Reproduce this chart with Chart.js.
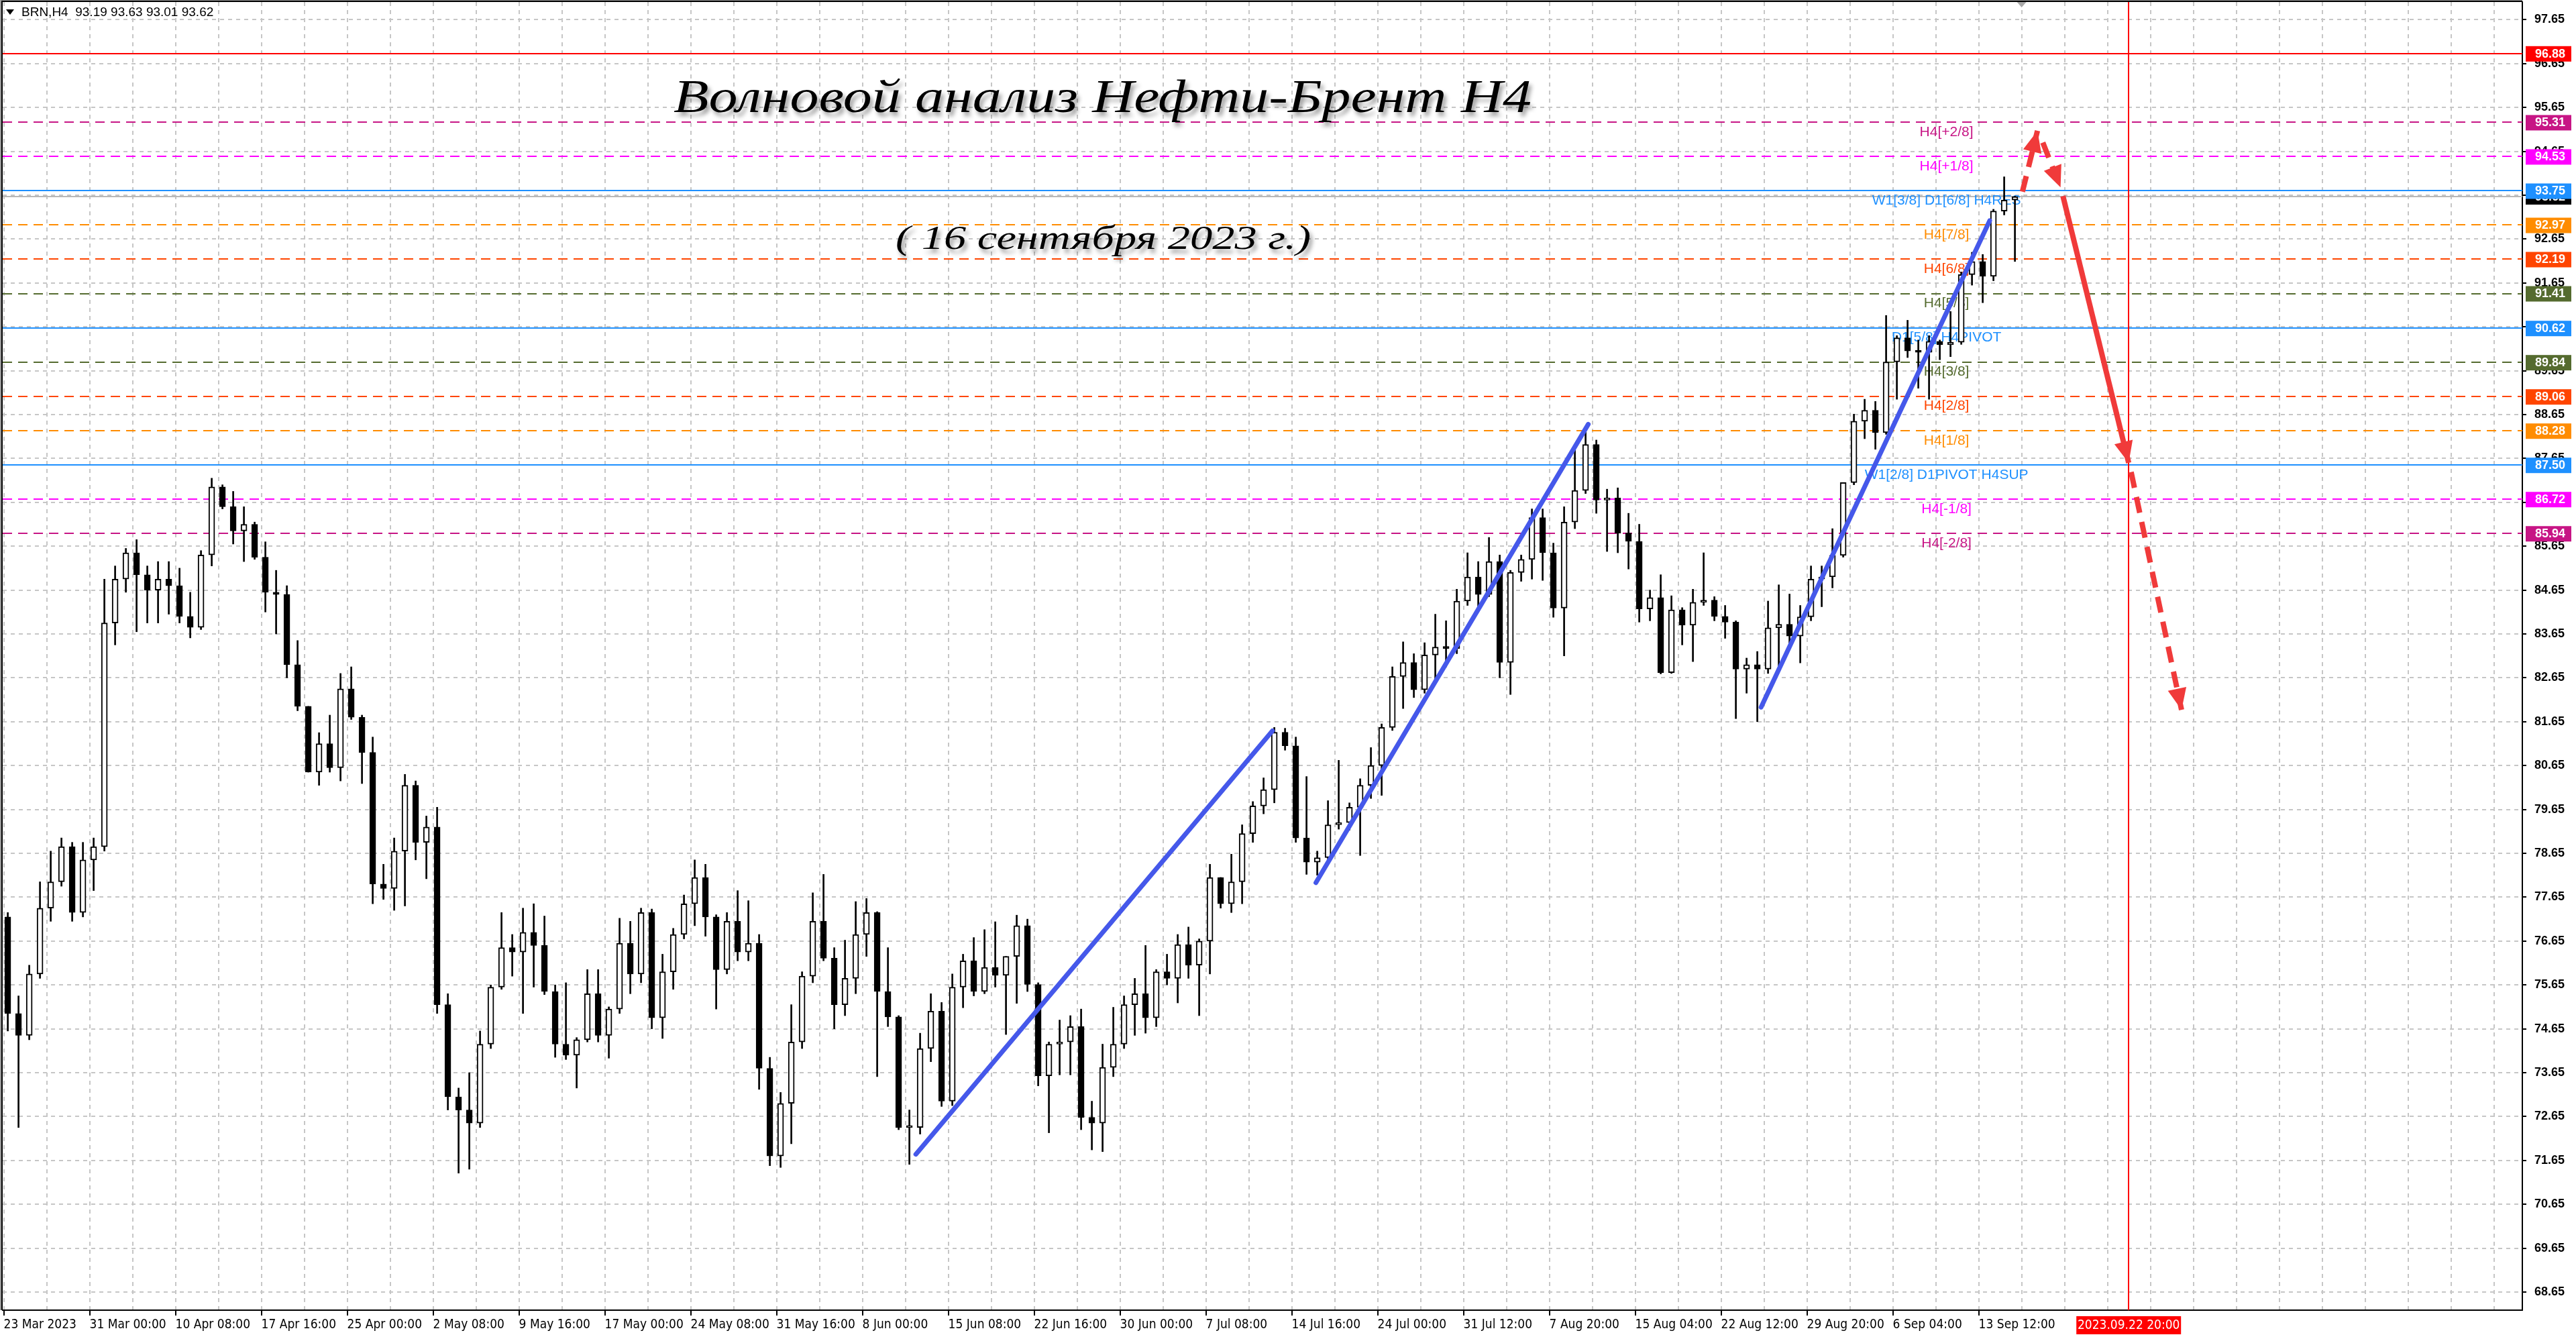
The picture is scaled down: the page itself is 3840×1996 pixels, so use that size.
<!DOCTYPE html>
<html>
<head>
<meta charset="utf-8">
<script src="https://cdn.jsdelivr.net/npm/chart.js@4.4.0/dist/chart.umd.min.js"></script>
<style>
  html, body { margin: 0; padding: 0; background: #fff; overflow: hidden; }
  canvas { display: block; }
</style>
</head>
<body>
<canvas id="chart" width="3840" height="1996"></canvas>
<script>
const symbolInfo = "BRN,H4  93.19 93.63 93.01 93.62";
const chartTitle = "Волновой анализ Нефти-Брент H4";
const chartSubtitle = "( 16 сентября 2023 г.)";

const timeLabels = ["23 Mar 2023", "31 Mar 00:00", "10 Apr 08:00", "17 Apr 16:00", "25 Apr 00:00",
  "2 May 08:00", "9 May 16:00", "17 May 00:00", "24 May 08:00", "31 May 16:00", "8 Jun 00:00",
  "15 Jun 08:00", "22 Jun 16:00", "30 Jun 00:00", "7 Jul 08:00", "14 Jul 16:00", "24 Jul 00:00",
  "31 Jul 12:00", "7 Aug 20:00", "15 Aug 04:00", "22 Aug 12:00", "29 Aug 20:00", "6 Sep 04:00",
  "13 Sep 12:00"];

const priceTicks = [68.65, 69.65, 70.65, 71.65, 72.65, 73.65, 74.65, 75.65, 76.65, 77.65,
  78.65, 79.65, 80.65, 81.65, 82.65, 83.65, 84.65, 85.65, 86.65, 87.65,
  88.65, 89.65, 90.65, 91.65, 92.65, 93.65, 94.65, 95.65, 96.65, 97.65];

const firstOpen = 77.2;
const highs = [
  77.3, 75.4, 76.1, 78.0, 78.7, 79.0, 78.9, 78.9, 79.0, 84.9,
  85.2, 85.6, 85.8, 85.2, 85.3, 85.3, 85.15, 84.6, 85.55, 87.2,
  87.05, 86.9, 86.55, 86.2, 85.75, 85.1, 84.75, 83.5, 82.0, 81.4,
  81.8, 82.75, 82.9, 81.8, 81.3, 78.4, 79.0, 80.45, 80.3, 79.5,
  79.7, 75.45, 73.3, 73.65, 74.6, 75.65, 77.3, 76.8, 77.4, 77.5,
  77.22, 75.65, 75.7, 74.45, 76.0, 76.0, 75.15, 77.17, 77.1, 77.4,
  77.38, 76.35, 76.94, 77.7, 78.5, 78.4, 77.25, 77.3, 77.8, 77.57,
  76.8, 74.0, 73.2, 75.2, 75.95, 77.75, 78.17, 76.5, 76.67, 77.55,
  77.62, 77.32, 76.5, 74.95, 72.8, 74.55, 75.45, 75.25, 75.9, 76.35,
  76.73, 76.91, 77.09, 76.3, 77.24, 77.15, 75.7, 74.35, 74.85, 74.95,
  75.1, 73.0, 74.3, 75.14, 75.4, 75.8, 76.55, 76.0, 76.35, 76.8,
  76.97, 76.7, 78.4, 78.1, 78.63, 79.3, 79.83, 80.37, 81.52, 81.5,
  81.3, 80.4, 78.7, 79.85, 80.77, 79.8, 80.35, 81.06, 81.6, 82.9,
  83.47, 83.2, 83.45, 84.1, 83.95, 84.67, 85.5, 85.3, 85.85, 85.45,
  85.1, 85.45, 86.5, 86.5, 85.72, 86.55, 87.86, 88.28, 88.07, 86.95,
  86.98, 86.4, 86.15, 84.65, 85.0, 84.52, 84.25, 84.67, 85.5, 84.5,
  84.3, 83.95, 83.1, 83.25, 84.4, 84.77, 84.56, 84.3, 85.2, 85.2,
  86.05, 87.1, 88.66, 89.0, 88.95, 90.91, 90.45, 90.8, 90.35, 90.45,
  90.35, 91.0, 91.9, 92.35, 92.3, 93.33, 94.07, 93.63
];
const lows = [
  74.6, 72.4, 74.4, 75.8, 77.1, 77.9, 77.1, 77.2, 77.8, 78.7,
  83.4, 84.6, 83.7, 83.9, 83.9, 84.1, 83.9, 83.56, 83.75, 85.2,
  86.5, 85.7, 85.3, 85.35, 84.15, 83.65, 82.65, 81.9, 80.5, 80.2,
  80.5, 80.3, 81.7, 80.24, 77.5, 77.6, 77.35, 77.45, 78.5, 78.07,
  75.0, 72.8, 71.36, 71.45, 72.4, 74.2, 75.55, 75.85, 75.0, 75.6,
  75.43, 74.0, 73.95, 73.3, 74.35, 74.35, 73.98, 75.0, 75.45, 75.7,
  74.65, 74.43, 75.55, 76.7, 77.0, 76.76, 75.1, 75.9, 76.2, 76.2,
  73.27, 71.53, 71.49, 72.03, 74.2, 75.7, 76.2, 74.65, 74.95, 75.45,
  76.3, 73.56, 74.7, 72.35, 71.56, 72.25, 73.9, 72.88, 72.9, 75.13,
  75.4, 75.45, 75.6, 74.52, 75.23, 75.5, 73.35, 72.28, 73.6, 73.6,
  72.35, 71.89, 71.85, 73.56, 74.2, 74.5, 74.55, 74.7, 75.65, 75.24,
  75.8, 74.95, 75.9, 77.4, 77.3, 77.5, 78.9, 79.55, 79.8, 81.0,
  78.9, 78.17, 78.15, 78.4, 79.2, 79.18, 78.6, 79.9, 79.97, 81.45,
  81.95, 82.2, 82.3, 82.6, 82.9, 83.2, 84.3, 84.25, 84.5, 82.65,
  82.27, 84.85, 84.9, 84.87, 84.03, 83.15, 86.05, 86.85, 86.4, 85.53,
  85.5, 85.13, 83.92, 83.95, 82.74, 82.75, 83.4, 83.02, 84.3, 83.95,
  83.55, 81.72, 82.3, 81.65, 82.75, 82.81, 83.3, 82.99, 83.95, 84.27,
  84.7, 85.4, 87.05, 88.1, 87.86, 88.2, 89.0, 89.95, 89.25, 89.0,
  89.9, 89.97, 90.25, 91.6, 91.2, 91.7, 93.2, 92.14
];
const closes = [
  75.0, 74.5, 75.9, 77.4, 78.0, 78.8, 77.3, 78.5, 78.8, 83.9,
  84.9, 85.5, 85.0, 84.65, 84.9, 84.75, 84.05, 83.8, 85.45, 87.0,
  86.55, 86.0, 86.15, 85.4, 84.6, 84.55, 82.95, 82.0, 80.5, 81.15,
  80.6, 82.4, 81.75, 80.95, 77.95, 77.85, 78.7, 80.2, 78.9, 79.25,
  75.2, 73.1, 72.8, 72.5, 74.3, 75.6, 76.5, 76.4, 76.85, 76.55,
  75.5, 74.3, 74.05, 74.4, 75.45, 74.5, 75.1, 76.6, 75.9, 77.3,
  74.9, 75.95, 76.8, 77.5, 78.1, 77.2, 76.0, 77.1, 76.4, 76.6,
  73.75, 71.75, 72.95, 74.35, 75.85, 77.1, 76.26, 75.2, 75.8, 76.8,
  77.3, 75.5, 74.92, 72.4, 72.4, 74.2, 75.05, 73.0, 75.6, 76.2,
  75.5, 76.05, 75.87, 76.3, 77.0, 75.66, 73.58, 74.3, 74.35, 74.7,
  72.63, 72.5, 73.77, 74.3, 75.2, 75.45, 74.9, 75.95, 75.8, 76.57,
  76.1, 76.65, 78.1, 77.5, 78.0, 79.1, 79.73, 80.1, 81.41, 81.1,
  79.0, 78.45, 78.55, 79.3, 79.35, 79.7, 80.2, 80.65, 81.52, 82.68,
  83.0, 82.38, 83.17, 83.35, 83.32, 84.4, 84.95, 84.55, 85.3, 83.0,
  85.05, 85.35, 86.3, 85.5, 84.24, 86.2, 86.92, 87.97, 86.7, 86.75,
  85.95, 85.76, 84.22, 84.48, 82.77, 84.2, 83.85, 84.37, 84.42, 84.05,
  83.92, 82.85, 82.95, 82.85, 83.79, 83.87, 83.6, 84.04, 84.9, 84.95,
  85.44, 87.1, 88.5, 88.75, 88.24, 89.85, 90.4, 90.1, 90.07, 90.32,
  90.24, 90.3, 91.84, 92.14, 91.8, 93.29, 93.54, 93.62
];

// Murrey levels shown on the chart
const levelPrices = [95.31, 94.53, 93.75, 92.97, 92.19, 91.41, 90.62, 89.84, 89.06, 88.28, 87.50, 86.72, 85.94];
const levelNames = ["H4[+2/8]", "H4[+1/8]", "W1[3/8] D1[6/8] H4RES", "H4[7/8]", "H4[6/8]", "H4[5/8]",
  "D1[5/8] H4PIVOT", "H4[3/8]", "H4[2/8]", "H4[1/8]", "W1[2/8] D1PIVOT H4SUP", "H4[-1/8]", "H4[-2/8]"];
const alertPrice = 96.88;
const levelLabelBar = 724;
const markerBar = 791.9;
const markerLabel = "2023.09.22 20:00";

// hand drawn lines: [bar1, price1, bar2, price2]
const trendLines = [
  [339.9, 71.79, 472.8, 81.44],
  [489.0, 77.98, 590.5, 88.43],
  [654.9, 81.98, 740.1, 93.07]
];
const forecastArrows = [
  [752.3, 93.73, 757.9, 95.12],
  [759.9, 94.85, 766.5, 93.83],
  [767.4, 93.63, 791.9, 87.55],
  [792.8, 87.34, 811.6, 81.92]
];

// ---- styles ----
const levelColors = ["#C71585", "#FF00FF", "#1E90FF", "#FF8C00", "#FF4500", "#556B2F",
  "#1E90FF", "#556B2F", "#FF4500", "#FF8C00", "#1E90FF", "#FF00FF", "#C71585"];
const levelSolid = [false, false, true, false, false, false, true, false, false, false, true, false, false];
const arrowDashed = [true, true, false, true];
const BLUE_LINE = "#4558EA";
const RED_ARROW = "#F03A3A";
const SANS = "'Liberation Sans', Arial, sans-serif";
const NARROW = "'Liberation Sans Narrow', 'DejaVu Sans Condensed', 'Liberation Sans', sans-serif";

const barsPerCandle = 4;
const opens = closes.map((c, i) => i === 0 ? firstOpen : closes[i - 1]);
const candleX = closes.map((c, i) => i * barsPerCandle + 1.5);

const datasets = [];

trendLines.forEach(t => {
  datasets.push({
    type: "line",
    data: [{ x: t[0], y: t[1] }, { x: t[2], y: t[3] }],
    borderColor: BLUE_LINE,
    borderWidth: 7,
    borderCapStyle: "round",
    pointRadius: 0,
    tension: 0,
    order: -2
  });
});

forecastArrows.forEach((a, i) => {
  datasets.push({
    type: "line",
    data: [{ x: a[0], y: a[1] }, { x: a[2], y: a[3] }],
    borderColor: RED_ARROW,
    borderWidth: 8,
    borderDash: arrowDashed[i] ? [24, 14] : [],
    pointRadius: 0,
    tension: 0,
    order: -2,
    arrowHead: true
  });
});

datasets.push({
  type: "bar",
  data: candleX.map((x, i) => ({ x, y: [lows[i], highs[i]] })),
  backgroundColor: "#000",
  barThickness: 2,
  grouped: false,
  order: 2
});
datasets.push({
  type: "bar",
  data: candleX.map((x, i) => ({ x, y: [opens[i], closes[i]] })),
  backgroundColor: closes.map((c, i) => c >= opens[i] ? "#fff" : "#000"),
  borderColor: "#000",
  borderWidth: 2,
  borderSkipped: false,
  minBarLength: 3,
  barThickness: 9,
  grouped: false,
  order: 1
});

function hline(ctx, area, yy, color, dash) {
  ctx.strokeStyle = color;
  ctx.setLineDash(dash);
  ctx.beginPath();
  ctx.moveTo(area.left, yy);
  ctx.lineTo(area.right, yy);
  ctx.stroke();
}

const overlay = {
  id: "mtOverlay",
  beforeDatasetsDraw(chart) {
    const { ctx, chartArea: a, scales: { x, y } } = chart;
    ctx.save();
    ctx.beginPath();
    ctx.rect(a.left, a.top, a.right - a.left, a.bottom - a.top);
    ctx.clip();
    ctx.lineWidth = 2;
    hline(ctx, a, Math.round(y.getPixelForValue(alertPrice)), "#FF0000", []);
    hline(ctx, a, Math.round(y.getPixelForValue(closes[closes.length - 1])), "#B8B8B8", []);
    levelPrices.forEach((p, i) => {
      hline(ctx, a, Math.round(y.getPixelForValue(p)), levelColors[i], levelSolid[i] ? [] : [14, 9]);
    });
    const mx = Math.round(x.getPixelForValue(markerBar));
    ctx.setLineDash([]);
    ctx.strokeStyle = "#FF0000";
    ctx.beginPath();
    ctx.moveTo(mx, a.top);
    ctx.lineTo(mx, a.bottom);
    ctx.stroke();

    ctx.font = "21px " + SANS;
    ctx.textAlign = "center";
    ctx.textBaseline = "top";
    const lx = x.getPixelForValue(levelLabelBar);
    levelNames.forEach((n, i) => {
      ctx.fillStyle = levelColors[i];
      ctx.fillText(n, lx, y.getPixelForValue(levelPrices[i]) + 4);
    });
    ctx.restore();
  },
  afterDatasetsDraw(chart) {
    const { ctx } = chart;
    chart.data.datasets.forEach((ds, i) => {
      if (!ds.arrowHead) return;
      const pts = chart.getDatasetMeta(i).data;
      const p0 = pts[pts.length - 2], p1 = pts[pts.length - 1];
      const ang = Math.atan2(p1.y - p0.y, p1.x - p0.x);
      const len = 32, half = 14;
      ctx.save();
      ctx.translate(p1.x, p1.y);
      ctx.rotate(ang);
      ctx.fillStyle = ds.borderColor;
      ctx.beginPath();
      ctx.moveTo(0, 0);
      ctx.lineTo(-len, -half);
      ctx.lineTo(-len, half);
      ctx.closePath();
      ctx.fill();
      ctx.restore();
    });
  },
  afterDraw(chart) {
    const { ctx, chartArea: a, scales: { x, y } } = chart;
    ctx.save();

    // window frame
    ctx.fillStyle = "#9a9a9a";
    ctx.fillRect(0, 0, 2, a.bottom);
    ctx.fillRect(0, 0, a.right, 2);
    ctx.strokeStyle = "#000";
    ctx.lineWidth = 2;
    ctx.setLineDash([]);
    ctx.beginPath();
    ctx.moveTo(a.left - 1, a.bottom);
    ctx.lineTo(a.left - 1, a.top - 1);
    ctx.lineTo(a.right, a.top - 1);
    ctx.stroke();

    // chart shift marker
    const sx = x.getPixelForValue(752);
    ctx.fillStyle = "#a8a8a8";
    ctx.beginPath();
    ctx.moveTo(sx - 7, a.top);
    ctx.lineTo(sx + 7, a.top);
    ctx.lineTo(sx, a.top + 8);
    ctx.closePath();
    ctx.fill();

    // price boxes on the right scale
    ctx.font = "bold 18px " + SANS;
    ctx.textAlign = "left";
    ctx.textBaseline = "middle";
    const box = (price, bg) => {
      const yy = y.getPixelForValue(price);
      ctx.fillStyle = bg;
      ctx.fillRect(a.right + 5, yy - 11, 68, 23);
      ctx.fillStyle = "#fff";
      ctx.fillText(price.toFixed(2), a.right + 19, yy + 1);
    };
    box(alertPrice, "#FF0000");
    box(closes[closes.length - 1], "#000");
    levelPrices.forEach((p, i) => box(p, levelColors[i]));

    // marker time box on the time scale
    const mx = x.getPixelForValue(markerBar);
    ctx.fillStyle = "#FF0000";
    ctx.fillRect(mx - 78, a.bottom + 9, 156, 27);
    ctx.fillStyle = "#fff";
    ctx.font = "19px " + NARROW;
    ctx.textAlign = "center";
    ctx.fillText(markerLabel, mx, a.bottom + 23);

    // header
    ctx.fillStyle = "#000";
    ctx.beginPath();
    ctx.moveTo(9, 14);
    ctx.lineTo(21, 14);
    ctx.lineTo(15, 22);
    ctx.closePath();
    ctx.fill();
    ctx.font = "19px " + SANS;
    ctx.textAlign = "left";
    ctx.fillText(symbolInfo, 32, 19);

    // title and date, with soft shadow
    const drawScript = (text, size, left, baseline, width) => {
      ctx.save();
      ctx.font = "italic " + size + "px 'Liberation Serif', 'DejaVu Serif', serif";
      ctx.textAlign = "left";
      ctx.textBaseline = "alphabetic";
      const w = ctx.measureText(text).width;
      ctx.translate(left, baseline);
      ctx.scale(width / w, 1);
      ctx.shadowColor = "rgba(0,0,0,0.38)";
      ctx.shadowBlur = 6;
      ctx.shadowOffsetX = 4;
      ctx.shadowOffsetY = 6;
      ctx.fillStyle = "#000";
      ctx.fillText(text, 0, 0);
      ctx.restore();
    };
    drawScript(chartTitle, 70, 1004, 167, 1279);
    drawScript(chartSubtitle, 50, 1335, 371, 619);

    ctx.restore();
  }
};

new Chart(document.getElementById("chart"), {
  type: "bar",
  data: { datasets },
  options: {
    responsive: false,
    devicePixelRatio: 1,
    animation: false,
    events: [],
    layout: { padding: { left: 4, top: 3, right: 0, bottom: 0 } },
    plugins: { legend: { display: false }, tooltip: { enabled: false } },
    scales: {
      x: {
        type: "linear",
        position: "bottom",
        min: -0.4,
        max: 938.6,
        offset: false,
        afterFit: s => { s.height = 43; s.paddingLeft = 0; s.paddingRight = 0; },
        afterBuildTicks: s => {
          const t = [];
          for (let b = 0; b <= 938; b += 16) t.push({ value: b });
          s.ticks = t;
        },
        ticks: {
          autoSkip: false,
          maxRotation: 0,
          align: "start",
          padding: 3,
          color: "#000",
          font: { family: NARROW, size: 19 },
          callback: v => (v % 32 === 0 && timeLabels[v / 32]) ? timeLabels[v / 32] : ""
        },
        grid: {
          offset: false,
          color: "#c6c6c6",
          lineWidth: 2,
          tickLength: 8,
          tickWidth: 2,
          tickBorderDash: [],
          tickColor: c => (c.tick && c.tick.value % 32 === 0 && c.tick.value <= 736) ? "#000" : "rgba(0,0,0,0)"
        },
        border: { display: true, color: "#000", width: 2, dash: [6, 6] }
      },
      y: {
        type: "linear",
        position: "right",
        min: 68.237,
        max: 98.054,
        afterFit: s => { s.width = 80; s.paddingTop = 0; s.paddingBottom = 0; },
        afterBuildTicks: s => { s.ticks = priceTicks.map(v => ({ value: v })); },
        ticks: {
          padding: 12,
          color: "#000",
          font: { family: SANS, size: 18, weight: "bold" },
          callback: v => v.toFixed(2)
        },
        grid: {
          color: "#c6c6c6",
          lineWidth: 2,
          tickLength: 6,
          tickWidth: 2,
          tickBorderDash: [],
          tickColor: "#000"
        },
        border: { display: true, color: "#000", width: 2, dash: [6, 6] }
      }
    }
  },
  plugins: [overlay]
});
</script>
</body>
</html>
